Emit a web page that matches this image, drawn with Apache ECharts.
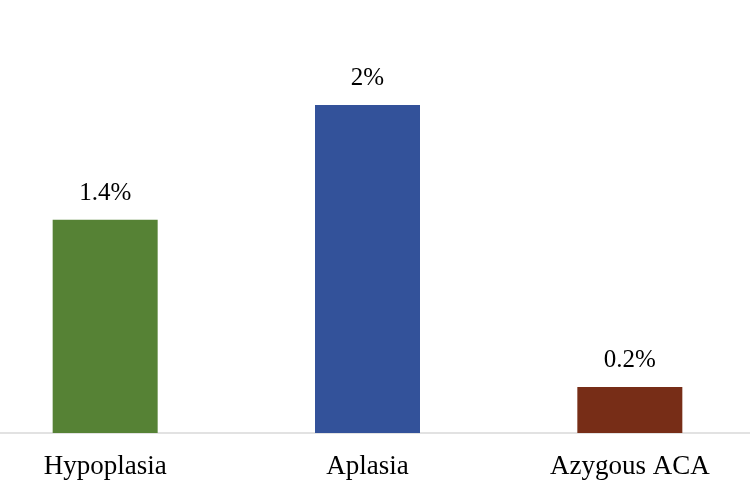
<!DOCTYPE html>
<html>
<head>
<meta charset="utf-8">
<script src="https://cdn.jsdelivr.net/npm/echarts@6/dist/echarts.min.js"></script>
<style>
  html, body { margin: 0; padding: 0; background: #fff; }
  #chart { width: 750px; height: 500px; }
</style>
</head>
<body>
<div id="chart"></div>
<script>
// categories and bar values (heights)
var categories = ['Hypoplasia', 'Aplasia', 'Azygous ACA'];
var values = [1.3, 2.0, 0.28];
var valueLabels = ['1.4%', '2%', '0.2%'];
var barColors = ['#568235', '#33529A', '#772D17'];

var chart = echarts.init(document.getElementById('chart'));

var option = {
	animation: false,
	backgroundColor: '#ffffff',
	grid: { left: -26, right: -11, top: 39.4, bottom: 67, containLabel: false, outerBoundsMode: 'none' },
	xAxis: {
		type: 'category',
		data: categories,
		axisTick: { show: false },
		axisLine: { show: true, lineStyle: { color: '#D9D9D9', width: 1.5 } },
		axisLabel: {
			margin: 20,
			color: '#000',
			fontFamily: 'Liberation Serif',
			fontSize: 27
		}
	},
	yAxis: {
		type: 'value',
		min: 0,
		max: 2.4,
		show: false,
		splitLine: { show: false }
	},
	series: [{
		type: 'bar',
		barWidth: 105,
		data: values.map(function (v, i) {
			return { value: v, itemStyle: { color: barColors[i] } };
		}),
		label: {
			show: true,
			position: 'top',
			distance: 14,
			color: '#000',
			fontFamily: 'Liberation Serif',
			fontSize: 25,
			formatter: function (p) { return valueLabels[p.dataIndex]; }
		}
	}]
};

chart.setOption(option);
</script>
</body>
</html>
